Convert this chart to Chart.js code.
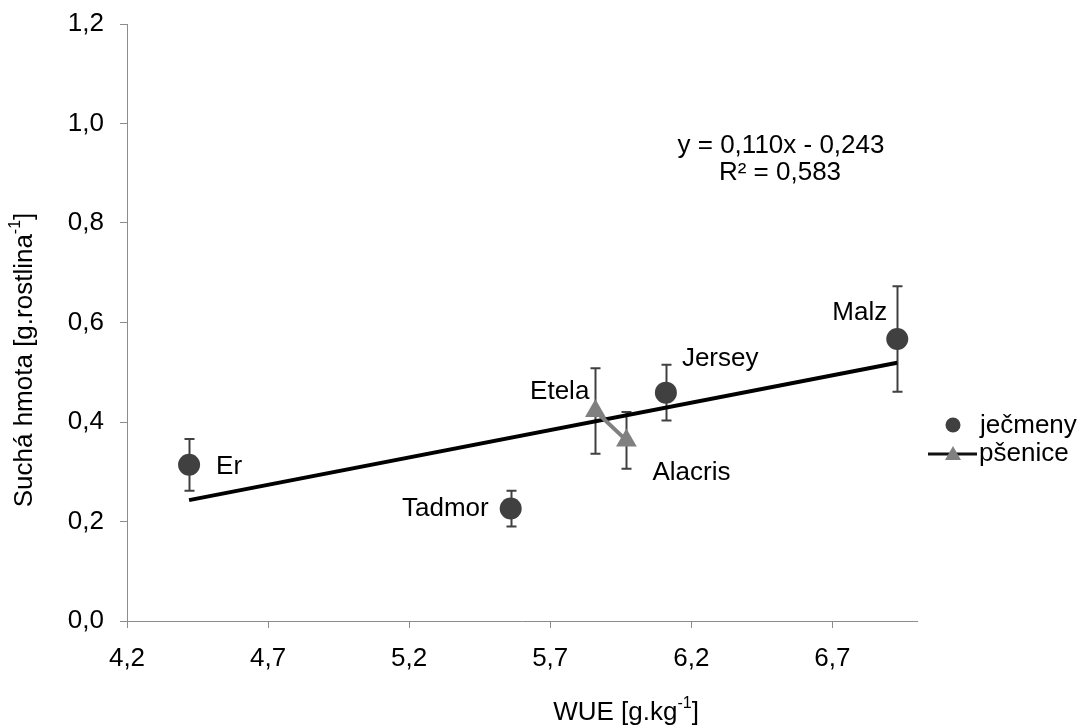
<!DOCTYPE html>
<html>
<head>
<meta charset="utf-8">
<script src="https://cdn.jsdelivr.net/npm/chart.js@4"></script>
<style>
html,body{margin:0;padding:0;background:#fff;}
#wrap{width:1082px;height:727px;position:relative;}
</style>
</head>
<body>
<div id="wrap"><canvas id="c" width="1082" height="727"></canvas></div>
<script>
// ---- data ----
const barleyNames = ['Er', 'Tadmor', 'Jersey', 'Malz'];
const barleyX = [4.42, 5.56, 6.11, 6.93];
const barleyY = [0.314, 0.226, 0.459, 0.567];
const barleyErr = [0.052, 0.036, 0.056, 0.106];

const wheatNames = ['Etela', 'Alacris'];
const wheatX = [5.86, 5.97];
const wheatY = [0.422, 0.363];
const wheatErr = [0.086, 0.057];

const trendX = [4.42, 6.93];
const trendY = [0.243, 0.519];

const xTicks = [4.2, 4.7, 5.2, 5.7, 6.2, 6.7];
const yTicks = [0.0, 0.2, 0.4, 0.6, 0.8, 1.0, 1.2];

const seriesNames = ['ječmeny', 'pšenice'];
const equationLines = ['y = 0,110x - 0,243', 'R² = 0,583'];
const xTitle = 'WUE [g.kg';
const yTitle = 'Suchá hmota [g.rostlina';

const FONT = '"Liberation Sans", Arial, sans-serif';
const FS = 26;
const DARK = '#404040';
const GRAYM = '#808080';
const AXIS = '#8c8c8c';

const toPts = (xs, ys) => xs.map((x, i) => ({x: x, y: ys[i]}));
const fmt = v => v.toFixed(1).replace('.', ',');

// label offsets (style), per point name
const labelStyle = {
  'Er':      {dx: 27,  dy: 2,   align: 'left'},
  'Tadmor':  {dx: -22, dy: 0,   align: 'right'},
  'Jersey':  {dx: 16,  dy: -34, align: 'left'},
  'Malz':    {dx: -10, dy: -26, align: 'right'},
  'Etela':   {dx: -6,  dy: -19, align: 'right'},
  'Alacris': {dx: 26,  dy: 32,  align: 'left'}
};

const errorBars = {
  id: 'errorBars',
  beforeDatasetsDraw(chart) {
    const ctx = chart.ctx, xs = chart.scales.x, ys = chart.scales.y;
    ctx.save();
    ctx.strokeStyle = DARK;
    ctx.lineWidth = 2;
    const draw = (X, Y, E) => {
      X.forEach((x, i) => {
        const px = Math.round(xs.getPixelForValue(x)) + 0.5;
        const top = ys.getPixelForValue(Y[i] + E[i]);
        const bot = ys.getPixelForValue(Y[i] - E[i]);
        ctx.beginPath();
        ctx.moveTo(px, top); ctx.lineTo(px, bot);
        ctx.moveTo(px - 5, top); ctx.lineTo(px + 5, top);
        ctx.moveTo(px - 5, bot); ctx.lineTo(px + 5, bot);
        ctx.stroke();
      });
    };
    draw(barleyX, barleyY, barleyErr);
    draw(wheatX, wheatY, wheatErr);
    ctx.restore();
  }
};

const textPlugin = {
  id: 'texts',
  afterDraw(chart) {
    const ctx = chart.ctx, xs = chart.scales.x, ys = chart.scales.y, ca = chart.chartArea;
    ctx.save();
    ctx.fillStyle = '#000';
    ctx.font = FS + 'px ' + FONT;
    ctx.textBaseline = 'middle';
    const lab = (names, X, Y) => names.forEach((n, i) => {
      const s = labelStyle[n];
      ctx.textAlign = s.align;
      ctx.fillText(n, xs.getPixelForValue(X[i]) + s.dx, ys.getPixelForValue(Y[i]) + s.dy);
    });
    lab(barleyNames, barleyX, barleyY);
    lab(wheatNames, wheatX, wheatY);

    // equation
    ctx.textAlign = 'center';
    ctx.fillText(equationLines[0], 781, 146);
    ctx.fillText(equationLines[1], 780, 173);

    // titles with superscript
    const drawSup = (main, cx, cy) => {
      ctx.font = FS + 'px ' + FONT;
      const w1 = ctx.measureText(main).width;
      ctx.font = Math.round(FS * 0.62) + 'px ' + FONT;
      const w2 = ctx.measureText('-1').width;
      ctx.font = FS + 'px ' + FONT;
      const w3 = ctx.measureText(']').width;
      const total = w1 + w2 + w3;
      let x0 = cx - total / 2;
      ctx.textAlign = 'left';
      ctx.fillText(main, x0, cy);
      ctx.font = Math.round(FS * 0.62) + 'px ' + FONT;
      ctx.fillText('-1', x0 + w1, cy - 9);
      ctx.font = FS + 'px ' + FONT;
      ctx.fillText(']', x0 + w1 + w2, cy);
    };
    drawSup(xTitle, 626, 713);
    ctx.save();
    ctx.translate(25, 360);
    ctx.rotate(-Math.PI / 2);
    drawSup(yTitle, 0, 0);
    ctx.restore();

    // legend
    const lx = ca.right + 36, ly1 = 425, ly2 = 454;
    ctx.fillStyle = DARK;
    ctx.beginPath(); ctx.arc(lx, ly1, 7.5, 0, Math.PI * 2); ctx.fill();
    ctx.strokeStyle = '#111';
    ctx.lineWidth = 3;
    ctx.beginPath(); ctx.moveTo(lx - 25, ly2); ctx.lineTo(lx + 24, ly2); ctx.stroke();
    ctx.fillStyle = GRAYM;
    ctx.beginPath();
    ctx.moveTo(lx, ly2 - 8); ctx.lineTo(lx + 8, ly2 + 6); ctx.lineTo(lx - 8, ly2 + 6); ctx.closePath();
    ctx.fill();
    ctx.fillStyle = '#000';
    ctx.textAlign = 'left';
    ctx.font = FS + 'px ' + FONT;
    ctx.fillText(seriesNames[0], lx + 27, ly1 + 1);
    ctx.fillText(seriesNames[1], lx + 26, ly2);
    ctx.restore();
  }
};

new Chart(document.getElementById('c'), {
  type: 'scatter',
  data: {
    datasets: [
      {
        label: seriesNames[0],
        data: toPts(barleyX, barleyY),
        backgroundColor: DARK,
        borderColor: DARK,
        pointRadius: 11,
        pointBorderWidth: 0,
        showLine: false,
        order: 0
      },
      {
        label: seriesNames[1],
        data: toPts(wheatX, wheatY),
        backgroundColor: GRAYM,
        borderColor: GRAYM,
        pointStyle: 'triangle',
        pointRadius: 12,
        pointBorderWidth: 0,
        showLine: true,
        borderWidth: 4,
        order: 1
      },
      {
        label: 'trend',
        data: toPts(trendX, trendY),
        borderColor: '#000',
        borderWidth: 4,
        pointRadius: 0,
        showLine: true,
        order: 2
      }
    ]
  },
  options: {
    responsive: false,
    animation: false,
    devicePixelRatio: 1,
    layout: {padding: {left: 0, top: 24, right: 165, bottom: 0}},
    plugins: {legend: {display: false}, tooltip: {enabled: false}},
    scales: {
      x: {
        type: 'linear',
        min: 4.2, max: 7.0,
        afterBuildTicks: s => { s.ticks = xTicks.map(v => ({value: v})); },
        afterFit: s => { s.height = 106; s.paddingLeft = 0; s.paddingRight = 0; },
        grid: {drawOnChartArea: false, color: AXIS, tickLength: 7, tickWidth: 1},
        border: {color: AXIS, width: 1},
        ticks: {color: '#000', font: {family: FONT, size: FS}, padding: 15, maxRotation: 0,
                callback: v => fmt(v)}
      },
      y: {
        type: 'linear',
        min: 0, max: 1.2,
        afterBuildTicks: s => { s.ticks = yTicks.map(v => ({value: v})); },
        afterFit: s => { s.width = 127; s.paddingTop = 0; s.paddingBottom = 0; },
        grid: {drawOnChartArea: false, color: AXIS, tickLength: 7, tickWidth: 1},
        border: {color: AXIS, width: 1},
        ticks: {color: '#000', font: {family: FONT, size: FS}, padding: 16,
                callback: v => fmt(v)}
      }
    }
  },
  plugins: [errorBars, textPlugin]
});
</script>
</body>
</html>
